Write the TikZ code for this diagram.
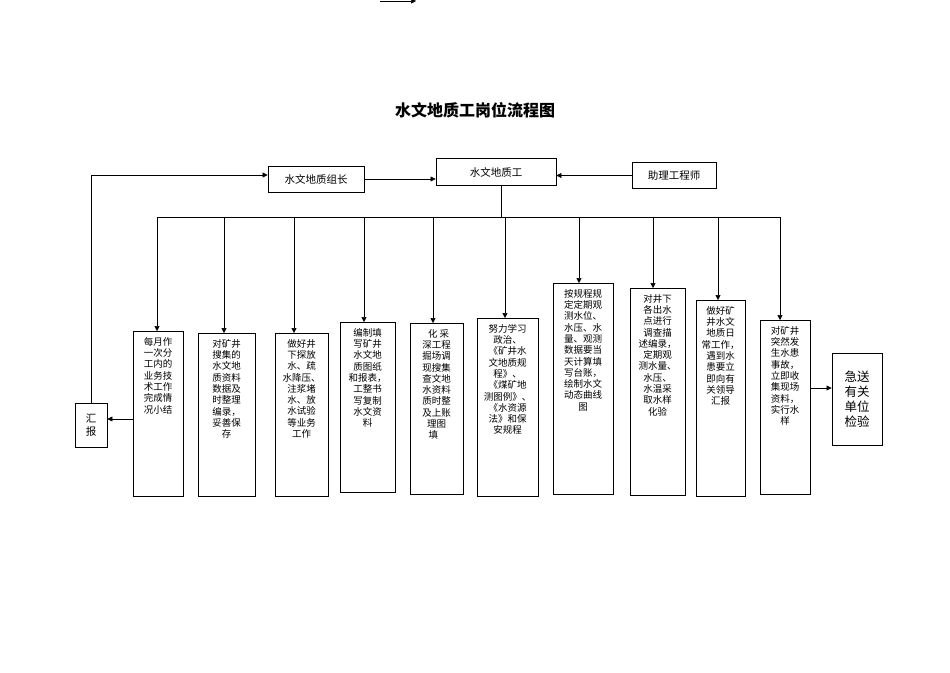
\documentclass[tikz,border=0pt]{standalone}
\usepackage{fontspec}
\newfontfamily\cjk{Noto Sans CJK SC}
\usetikzlibrary{arrows.meta}

\tikzset{
  arr/.style={-{Triangle[length=5pt,width=5pt]}, line width=0.5pt},
  box/.style={draw, line width=0.8pt},
  txt/.style={anchor=north, align=center, inner sep=0pt, font=\cjk\fontsize{9.5}{11.3}\selectfont},
  head/.style={draw, line width=0.8pt, minimum height=26pt, inner sep=2pt, font=\cjk\fontsize{10.5}{12}\selectfont}
}

% #1 name, #2 x1, #3 x2, #4 y1, #5 y2, #6 arrow x, #7 text
\newcommand\jobbox[7]{
  \draw[box] (#2,#4) rectangle (#3,#5);
  \node[txt] (t#1) at ({(#2+#3)/2},#4+6) {#7};
  \coordinate (in#1) at (#6,#4);
  \draw[arr] (#6,217) -- (in#1);
}

\begin{document}
\begin{tikzpicture}[x=1pt,y=-1pt]
\useasboundingbox (0,0) rectangle (950,672);

% top stub
\coordinate (s1) at (380,1);
\coordinate (s2) at (416,1);
\draw[arr] (s1) -- (s2);

% title
\node[font=\cjk\bfseries\fontsize{16}{18}\selectfont] (title) at (475,110) {水文地质工岗位流程图};

% heads
\node[head, minimum width=96pt] (lead) at (316,179) {水文地质组长};
\node[head, minimum width=120pt, minimum height=27pt] (hg) at (496,172) {水文地质工};
\node[head, minimum width=84pt] (eng) at (674,175.5) {助理工程师};
\draw[arr] (lead.east) -- (lead.east -| hg.west);
\draw[arr] (eng.west) -- (eng.west -| hg.east);

% bus
\coordinate (bus) at (501,217);
\draw[line width=0.6pt] (hg.south -| bus) -- (bus);
\draw[line width=0.6pt] (157,217) -- (780,217);

% job boxes
\jobbox{1}{133}{183}{331}{496}{157}{每月作\\一次分\\工内的\\业务技\\术工作\\完成情\\况小结}
\jobbox{2}{198}{255}{333}{496}{224}{对矿井\\搜集的\\水文地\\质资料\\数据及\\时整理\\编录，\\妥善保\\存}
\jobbox{3}{275}{328}{333}{496}{294}{做好井\\下探放\\水、疏\\水降压、\\注浆堵\\水、放\\水试验\\等业务\\工作}
\jobbox{4}{340}{395}{322}{492}{364}{编制填\\写矿井\\水文地\\质图纸\\和报表，\\工整书\\写复制\\水文资\\料}
\jobbox{5}{410}{463}{323}{494}{433}{\ \ 化\ 采\\深工程\\掘场调\\现搜集\\查文地\\水资料\\质时整\\及上账\\理图\ \\填\ \ \ \ }
\jobbox{6}{477}{538}{318}{496}{505}{努力学习\\政治、\\《矿井水\\文地质规\\程》、\\《煤矿地\\测图例》、\\《水资源\\法》和保\\安规程}
\jobbox{7}{553}{613}{283}{494}{579}{按规程规\\定定期观\\测水位、\\水压、水\\量、观测\\数据要当\\天计算填\\写台账，\\绘制水文\\动态曲线\\图}
\jobbox{8}{630}{685}{288}{495}{653}{对井下\\各出水\\点进行\\调查描\\述编录，\\定期观\\测水量、\\水压、\\水温采\\取水样\\化验}
\jobbox{9}{696}{745}{300}{496}{718}{做好矿\\井水文\\地质日\\常工作，\\遇到水\\患要立\\即向有\\关领导\\汇报}
\jobbox{10}{760}{810}{320}{494}{780}{对矿井\\突然发\\生水患\\事故，\\立即收\\集现场\\资料，\\实行水\\样}

% report
\node[draw, line width=0.8pt, minimum width=32pt, minimum height=44pt, inner sep=0pt, align=center, font=\cjk\fontsize{10.5}{13}\selectfont] (rep) at (91,425) {汇\\报};
\coordinate (r1) at (133,419);
\draw[arr] (r1) -- (r1 -| rep.east);
\draw[arr] (rep.north) -- (91,175) -- (lead.west |- 0,175);

% send
\node[draw, line width=0.8pt, minimum width=50pt, minimum height=92pt, inner sep=0pt, align=center, font=\cjk\fontsize{12.5}{15}\selectfont] (send) at (857,399) {急送\\有关\\单位\\检验};
\coordinate (s10) at (810,388);
\draw[arr] (s10) -- (s10 -| send.west);

\end{tikzpicture}
\end{document}
